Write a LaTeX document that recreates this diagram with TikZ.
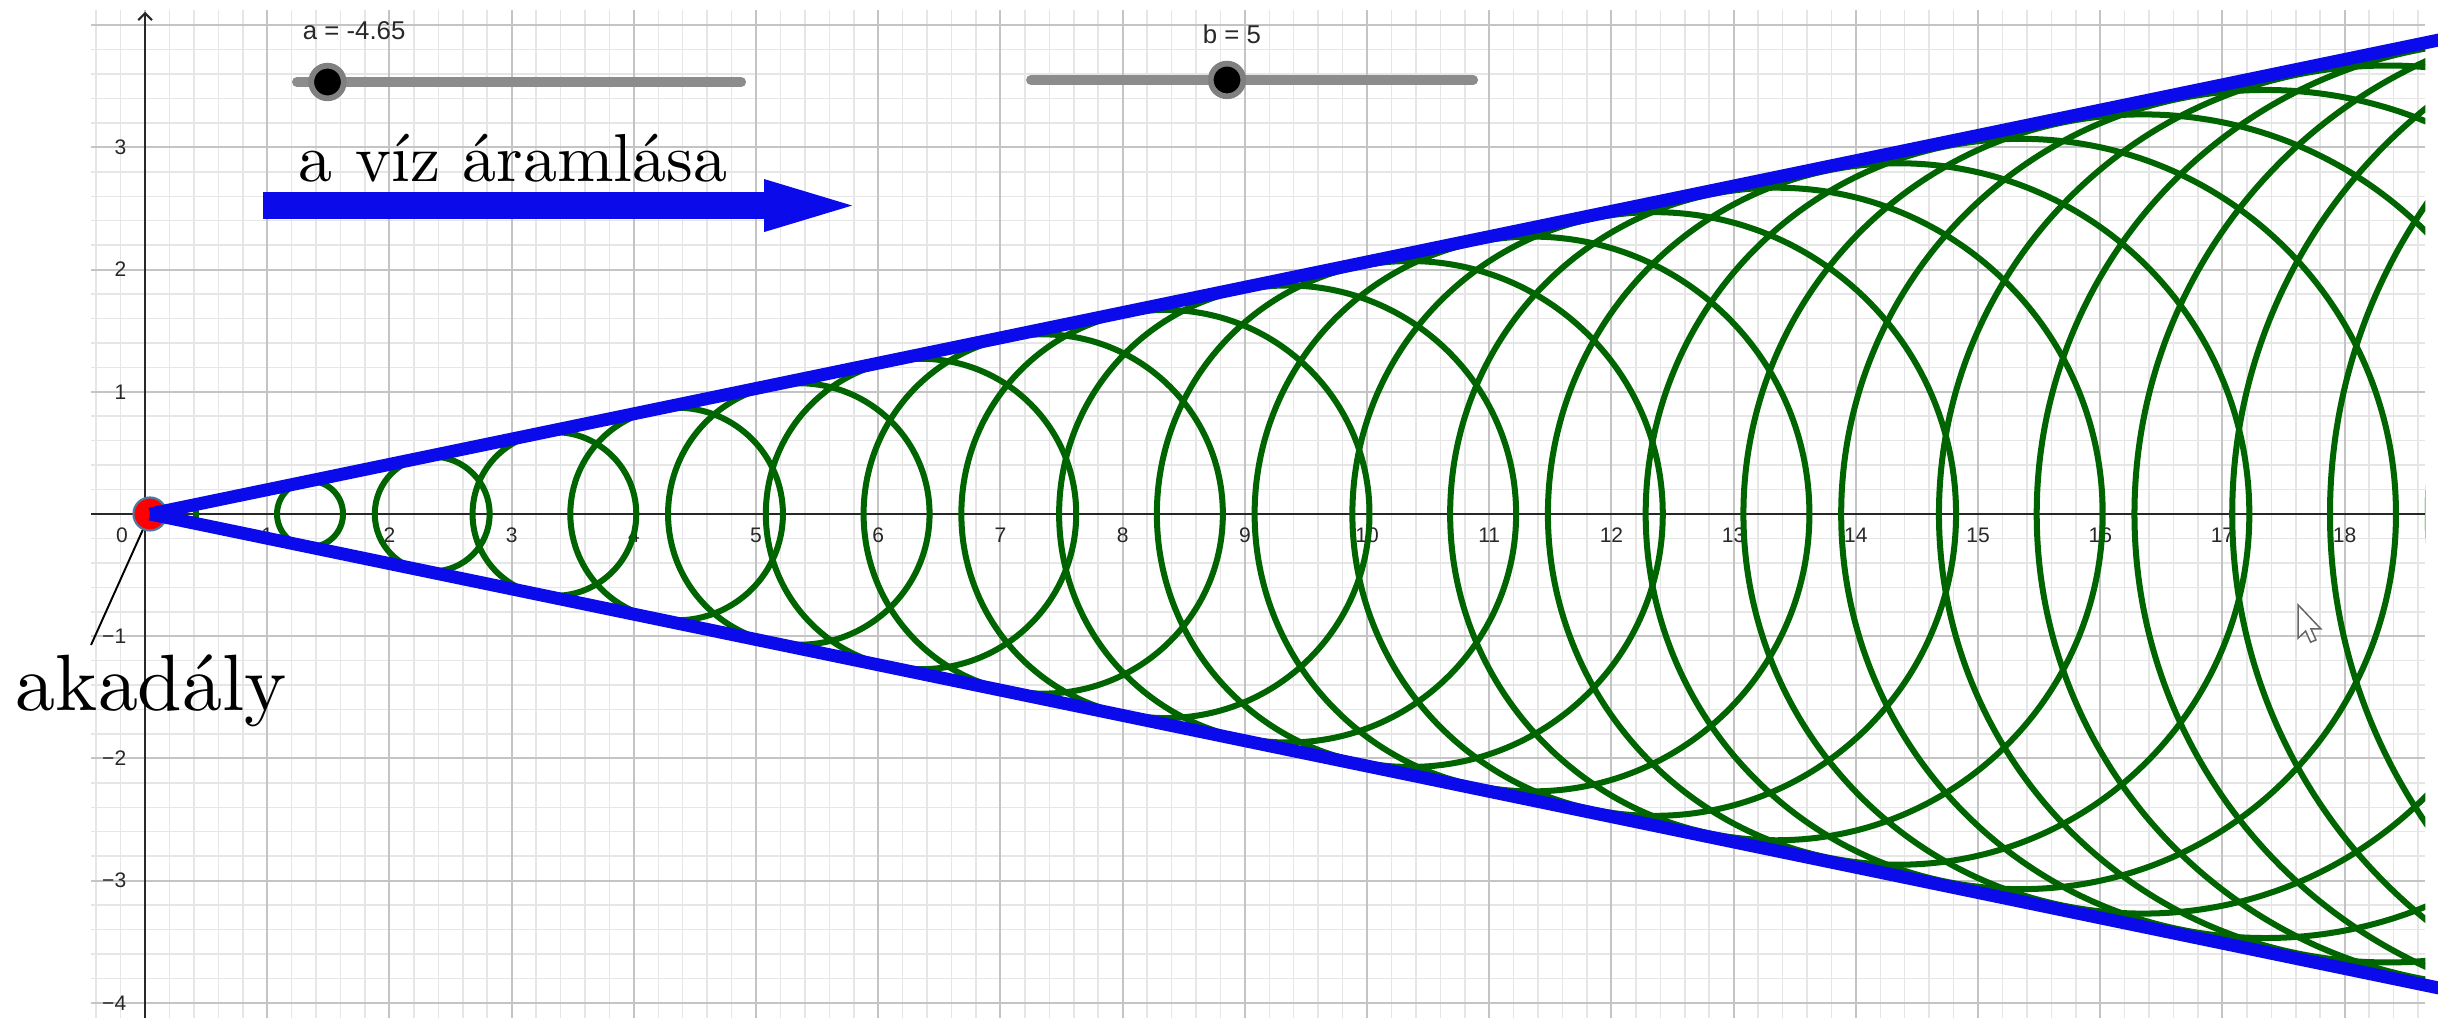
\documentclass[tikz,border=0pt]{standalone}
\usepackage{fontspec}
\usepackage{tikz}
\usetikzlibrary{arrows.meta,positioning}
\newfontfamily\ggbsans{Liberation Sans}
\newfontfamily\cmten{lmroman10-regular}[Extension=.otf]
\definecolor{ggbGreen}{RGB}{0,100,0}
\definecolor{ggbBlue}{RGB}{10,10,235}
\definecolor{ggbRim}{RGB}{77,120,160}
\definecolor{gridMajor}{RGB}{196,196,196}
\definecolor{gridMinor}{RGB}{230,230,230}
\definecolor{axisGray}{RGB}{40,40,40}
\definecolor{sliderGray}{RGB}{140,140,140}

\begin{document}
\begin{tikzpicture}[
  minorgrid/.style={gridMinor,line width=0.35pt},
  majorgrid/.style={gridMajor,line width=0.45pt},
  axis/.style={axisGray,line width=0.5pt},
  ticklbl/.style={inner sep=0pt,text=axisGray,font=\ggbsans\fontsize{4.9}{5.5}\selectfont},
  sliderlbl/.style={inner sep=0pt,anchor=base west,text=axisGray,font=\ggbsans\fontsize{6}{7}\selectfont},
  wave/.style={ggbGreen,line width=1.4pt},
  wedge/.style={ggbBlue,line width=3pt},
  track/.style={sliderGray,line width=2.3pt,line cap=round},
  knob/.style={circle,inner sep=0pt,minimum size=0.267cm,fill=black,draw=gray,line width=1.34pt},
  pt/.style={circle,inner sep=0pt,minimum size=0.27cm,fill=red,draw=ggbRim,line width=0.5pt},
  bigtxt/.style={inner sep=0pt,anchor=base west}
]
  \useasboundingbox (-1.187,-4.124) rectangle (18.764,4.206);
  \fill[white] (-1.187,-4.124) rectangle (18.764,4.206);

  \begin{scope}
    \clip (-0.442,-4.124) rectangle (18.66,4.124);
    \draw[minorgrid,step=0.2] (-0.442,-4.124) grid (18.66,4.124);
    \draw[majorgrid,step=1] (-0.442,-4.124) grid (18.66,4.124);
  \end{scope}
  \draw[axis] (-0.442,0) -- (18.66,0);
  \draw[axis,-{Straight Barb[length=1.6pt,width=3.2pt]}] (0,-4.124) -- (0,4.11);

  \node[ticklbl] (x0) at (-0.188,-0.172) {0};
  \foreach \k in {1,...,18}
    \node[ticklbl] (x\k) at (\k,-0.172) {\k};
  \foreach \k in {1,2,3}
    \node[ticklbl,anchor=east] (y\k) at (-0.147,\k) {\k};
  \foreach \k in {1,2,3,4}
    \node[ticklbl,anchor=east] (ym\k) at (-0.147,-\k) {−\k};

  \begin{scope}
    \clip (-0.442,-4.124) rectangle (18.66,4.124);
    \foreach \k in {0,...,23}{
      \pgfmathsetmacro\cx{\k+0.35}
      \draw[wave] (\cx,0) circle [radius=\cx/5];
    }
  \end{scope}

  \draw[track] (1.243,3.535) -- (4.878,3.535);
  \node[knob] (knobA) at (1.493,3.535) {};
  \node[sliderlbl] (lblA) at (1.285,3.879) {a = -4.65};
  \draw[track] (7.25,3.552) -- (10.868,3.552);
  \node[knob] (knobB) at (8.854,3.552) {};
  \node[sliderlbl] (lblB) at (8.65,3.85) {b = 5};

  \node[bigtxt,font=\cmten\fontsize{15.8}{19}\selectfont] (flow) at (1.252,2.717) {a víz áramlása};
  \coordinate (flowL) at (0.966,2.524);
  \coordinate (flowR) at (5.786,2.524);
  \draw[ggbBlue,line width=6.3pt,-{Triangle[length=20.5pt,width=12.35pt,line width=0pt]}] (flowL) -- (flowR);

  \node[pt] (obst) at (0.04,0) {};
  \coordinate (upEnd) at (18.8,3.885);
  \coordinate (lowEnd) at (18.8,-3.885);
  \draw[wedge] (obst.center) -- (upEnd);
  \draw[wedge] (obst.center) -- (lowEnd);

  \node[bigtxt,font=\cmten\fontsize{18.6}{22}\selectfont] (akadaly) at (-1.064,-1.604) {akadály};
  \coordinate (leadStart) at (-0.442,-1.072);
  \draw[black,line width=0.45pt] (leadStart) -- (obst);

  \begin{scope}[shift={(17.62,-0.745)},scale=0.0169]
    \draw[fill=white,draw=gray!80!black,line width=0.35pt] (0,0) -- (0,-16) -- (3.6,-12.6) -- (6,-18) -- (8.6,-16.9) -- (6.2,-11.6) -- (11,-11.6) -- cycle;
  \end{scope}
\end{tikzpicture}
\end{document}
